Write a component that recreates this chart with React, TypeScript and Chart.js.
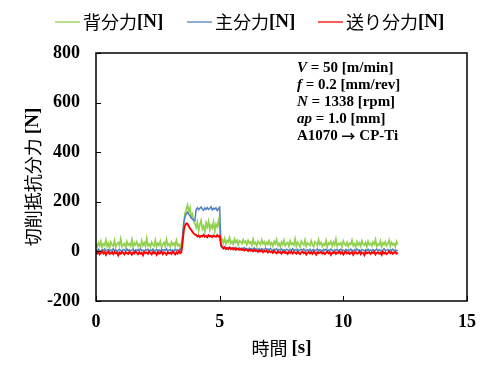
import React, { useEffect, useRef } from "react";
import { Chart, registerables } from "chart.js";

Chart.register(...registerables);

// sampling interval of the recorded signals [s]
const SAMPLE_DT = 0.05;

const SERIES_NAMES = ["背分力", "主分力", "送り分力"];
const SERIES_COLORS = ["#92D050", "#4F81BD", "#FF0000"];
const SERIES_WIDTHS = [1.7, 1.5, 1.9];
const X_TICKS = [0, 5, 10, 15];
const Y_TICKS = [-200, 0, 200, 400, 600, 800];
const X_TITLE = "時間";
const Y_TITLE = "切削抵抗分力";
const UNIT_N = "[N]";
const UNIT_S = "[s]";

// 背分力 (thrust force)
const backForce = [
  28, 19, 35, 22, 41, 17, 30, 24, 46, 20,
  33, 15, 38, 26, 21, 44, 18, 29, 36, 23,
  50, 19, 27, 32, 16, 40, 25, 31, 22, 47,
  18, 34, 26, 39, 21, 29, 17, 43, 24, 35,
  20, 52, 23, 30, 18, 37, 27, 22, 45, 19,
  33, 25, 41, 16, 28, 36, 21, 48, 24, 30,
  19, 38, 26, 34, 20, 44, 23, 29, 17, 32,
  60,
  118, 152, 170, 187, 158, 176, 140, 150, 122, 112,
  96, 118, 84, 108, 125, 90, 102, 79, 115, 98,
  121, 87, 106, 94, 118, 82, 110, 99, 124, 92,
  55,
  48, 34, 52, 30, 44, 38, 56, 33, 41, 29, 50, 36, 45, 27, 43, 39, 31, 47, 35, 42,
  28, 44, 33, 38, 25, 49, 30, 36, 22, 41, 34, 27, 46, 31, 39, 24, 37, 29, 43, 26,
  35, 21, 40, 30, 48, 24, 33, 19, 38, 27, 45, 23, 31, 36, 20, 42, 28, 34, 25, 50,
  22, 37, 29, 18, 41, 32, 26, 46, 21, 35, 30, 24, 43, 27, 19, 39, 33, 23, 47, 28,
  36, 20, 31, 25, 44, 18, 34, 29, 40, 22, 38, 26, 49, 21, 32, 27, 35, 19, 42, 30,
  24, 37, 20, 33, 28, 45, 23, 31, 18, 39, 26, 35, 21, 43, 29, 25, 36, 19, 41, 27,
  33, 22, 38, 28, 47, 20, 30, 25, 42, 18, 34, 27, 39, 23, 31, 45, 21, 36, 26, 32, 19, 40, 28,
];

// 主分力 (principal force)
const mainForce = [
  6, 2, 9, 4, -1, 7, 3, 10, 1, 5,
  8, 0, 6, 3, 11, 2, 7, -2, 5, 9,
  4, 1, 8, 6, 0, 10, 3, 7, 2, 5,
  9, -1, 6, 4, 8, 2, 11, 3, 5, 0,
  7, 4, 9, 1, 6, 3, 10, -1, 5, 8,
  2, 6, 0, 9, 4, 7, 3, 11, 1, 5,
  8, 2, 6, -1, 9, 4, 7, 1, 10, 3,
  55,
  115, 140, 152, 158, 150, 143, 136, 130, 126, 124,
  170, 176, 168, 174, 179, 171, 166, 175, 170, 177,
  169, 173, 180, 167, 174, 171, 176, 165, 172, 178,
  20,
  16, 11, 18, 9, 14, 12, 17, 8, 13, 15, 10, 16, 7, 12, 14, 9, 13, 11, 15, 8,
  12, 6, 13, 9, 11, 5, 14, 8, 10, 7, 12, 4, 11, 9, 6, 13, 8, 10, 5, 12,
  7, 3, 9, 6, 11, 2, 8, 5, 10, 4, 7, 1, 9, 6, 3, 8, 5, 11, 2, 7,
  4, 9, 1, 6, 8, 3, 10, 5, 2, 7, 4, 9, 0, 6, 8, 3, 5, 10, 1, 7,
  5, 2, 8, 4, 9, 1, 6, 3, 10, 5, 0, 7, 4, 8, 2, 6, 9, 3, 5, 1,
  8, 4, 6, 2, 9, 5, 1, 7, 3, 10, 4, 6, 0, 8, 5, 2, 7, 3, 9, 4,
  6, 1, 8, 3, 5, 9, 2, 7, 4, 0, 6, 10, 3, 5, 8, 1, 7, 4, 9, 2, 6, 3, 5,
];

// 送り分力 (feed force)
const feedForce = [
  -4, -9, -2, -12, -6, 0, -8, -3, -14, -5,
  -1, -10, -7, -3, -11, -2, -8, -5, -16, -4,
  -9, -1, -6, -12, -3, -7, -10, -2, -5, -13,
  -4, -8, 0, -6, -11, -3, -9, -5, -15, -2,
  -7, -4, -10, -1, -6, -12, -3, -8, -5, -14,
  -2, -9, -6, -1, -11, -4, -7, -13, -3, -8,
  -5, -10, -2, -6, -12, -4, -9, 0, -7, -3,
  35,
  85, 104, 113, 111, 101, 93, 86, 79, 73, 68,
  66, 60, 64, 58, 63, 61, 67, 59, 62, 57,
  65, 60, 63, 58, 64, 61, 59, 66, 60, 63,
  30,
  18, 12, 16, 10, 14, 9, 15, 11, 13, 8, 12, 7, 11, 9, 6, 10, 5, 8, 4, 9,
  6, 2, 7, 3, 5, 0, 6, 1, 4, -2, 3, 0, 5, -3, 2, -1, 4, -4, 1, -2,
  -1, -6, 2, -4, -8, 0, -5, -2, -9, -3, -1, -7, -4, -10, -2, -6, 0, -8, -3, -5,
  -9, -2, -6, -11, -4, -1, -7, -3, -12, -5, -2, -8, -4, -10, -1, -6, -13, -3, -7, -5,
  -2, -9, -4, -11, -6, -1, -8, -3, -14, -5, -7, -2, -10, -4, -6, 0, -9, -3, -12, -5,
  -1, -8, -4, -10, -6, -2, -13, -5, -3, -9, -7, -1, -11, -4, -6, -15, -2, -8, -5, -3,
  -10, -4, -7, -1, -12, -6, -3, -9, -5, -14, -2, -8, -4, -11, -6, 0, -7, -3, -10, -5, -2, -9, -4,
];

// cutting conditions: [italic symbol, rest]
const CONDITIONS: [string, string][] = [
  ["V", " = 50 [m/min]"],
  ["f", " = 0.2 [mm/rev]"],
  ["N", " = 1338 [rpm]"],
  ["ap", " = 1.0 [mm]"],
  ["", "A1070 → CP-Ti"],
];

const CJK = "'Noto Sans CJK JP', sans-serif";
const SERIF = "'Liberation Serif', 'Times New Roman', serif";

type Seg = { text: string; font: string };

function segWidth(ctx: CanvasRenderingContext2D, segs: Seg[]) {
  let w = 0;
  for (const s of segs) {
    ctx.font = s.font;
    w += ctx.measureText(s.text).width;
  }
  return w;
}

function drawRich(
  ctx: CanvasRenderingContext2D,
  segs: Seg[],
  x: number,
  y: number,
  align: "left" | "center"
) {
  let cx = align === "center" ? x - segWidth(ctx, segs) / 2 : x;
  ctx.textAlign = "left";
  ctx.textBaseline = "middle";
  for (const s of segs) {
    ctx.font = s.font;
    ctx.fillText(s.text, cx, y);
    cx += ctx.measureText(s.text).width;
  }
}

const decorPlugin = {
  id: "decor",
  afterDatasetsDraw(chart: any) {
    const ctx: CanvasRenderingContext2D = chart.ctx;
    const { left, right, top, bottom } = chart.chartArea;
    const xs = chart.scales.x;
    const ys = chart.scales.y;
    ctx.save();
    // plot frame
    ctx.strokeStyle = "#000";
    ctx.lineWidth = 1.5;
    ctx.strokeRect(left, top, right - left, bottom - top);
    // inward tick marks
    ctx.lineWidth = 1;
    for (const t of X_TICKS) {
      const px = Math.round(xs.getPixelForValue(t)) + 0.5;
      ctx.beginPath();
      ctx.moveTo(px, bottom);
      ctx.lineTo(px, bottom - 5);
      ctx.stroke();
    }
    for (const t of Y_TICKS) {
      const py = Math.round(ys.getPixelForValue(t)) + 0.5;
      ctx.beginPath();
      ctx.moveTo(left, py);
      ctx.lineTo(left + 5, py);
      ctx.stroke();
    }
    ctx.restore();
  },
  afterDraw(chart: any) {
    const ctx: CanvasRenderingContext2D = chart.ctx;
    const { left, right, top, bottom } = chart.chartArea;
    ctx.save();
    ctx.fillStyle = "#000";

    // legend
    const legendX = [55, 187, 318];
    const legendY = 22;
    SERIES_NAMES.forEach((name, i) => {
      ctx.strokeStyle = SERIES_COLORS[i];
      ctx.lineWidth = 1.3;
      ctx.beginPath();
      ctx.moveTo(legendX[i], legendY);
      ctx.lineTo(legendX[i] + 25, legendY);
      ctx.stroke();
      ctx.fillStyle = "#000";
      drawRich(
        ctx,
        [
          { text: name, font: `18px ${CJK}` },
          { text: UNIT_N, font: `bold 19px ${SERIF}` },
        ],
        legendX[i] + 28,
        legendY,
        "left"
      );
    });

    // x axis title
    drawRich(
      ctx,
      [
        { text: X_TITLE + " ", font: `18px ${CJK}` },
        { text: UNIT_S, font: `bold 19px ${SERIF}` },
      ],
      (left + right) / 2,
      348,
      "center"
    );

    // y axis title
    ctx.save();
    ctx.translate(33, (top + bottom) / 2);
    ctx.rotate(-Math.PI / 2);
    drawRich(
      ctx,
      [
        { text: Y_TITLE + " ", font: `18px ${CJK}` },
        { text: UNIT_N, font: `bold 19px ${SERIF}` },
      ],
      0,
      0,
      "center"
    );
    ctx.restore();

    // condition annotation
    CONDITIONS.forEach(([sym, rest], i) => {
      const segs: Seg[] = [];
      if (sym) segs.push({ text: sym, font: `italic bold 15px ${SERIF}` });
      const parts = rest.split("→");
      parts.forEach((p, k) => {
        if (k > 0) segs.push({ text: "→", font: `bold 14px ${CJK}` });
        segs.push({ text: p, font: `bold 15px ${SERIF}` });
      });
      drawRich(ctx, segs, 297, 68 + i * 17, "left");
    });
    ctx.restore();
  },
};

const SERIES = [backForce, mainForce, feedForce];
const DRAW_ORDER = [3, 2, 1];

export default function App() {
  const ref = useRef<HTMLCanvasElement | null>(null);

  useEffect(() => {
    if (!ref.current) return;
    const chart = new Chart(ref.current, {
      type: "line",
      data: {
        datasets: SERIES.map((arr, i) => ({
          label: SERIES_NAMES[i] + UNIT_N,
          data: arr.map((v, k) => ({ x: k * SAMPLE_DT, y: v })),
          borderColor: SERIES_COLORS[i],
          backgroundColor: SERIES_COLORS[i],
          borderWidth: SERIES_WIDTHS[i],
          pointRadius: 0,
          tension: 0,
          order: DRAW_ORDER[i],
        })),
      },
      options: {
        animation: false,
        responsive: true,
        maintainAspectRatio: false,
        layout: { padding: { left: 0, top: 53, right: 24, bottom: 0 } },
        plugins: {
          legend: { display: false },
          tooltip: { enabled: false },
        },
        scales: {
          x: {
            type: "linear",
            min: 0,
            max: 15,
            afterBuildTicks: (s: any) => {
              s.ticks = X_TICKS.map((v) => ({ value: v }));
            },
            afterFit: (s: any) => {
              s.height = 77;
            },
            grid: { display: false, drawTicks: false },
            border: { display: false },
            ticks: {
              padding: 11,
              color: "#000",
              font: { family: SERIF, size: 18, weight: "bold" },
              maxRotation: 0,
            },
          },
          y: {
            type: "linear",
            min: -200,
            max: 800,
            afterBuildTicks: (s: any) => {
              s.ticks = Y_TICKS.map((v) => ({ value: v }));
            },
            afterFit: (s: any) => {
              s.width = 96;
            },
            grid: { display: false, drawTicks: false },
            border: { display: false },
            ticks: {
              padding: 16,
              color: "#000",
              font: { family: SERIF, size: 18, weight: "bold" },
            },
          },
        },
      },
      plugins: [decorPlugin],
    });
    return () => chart.destroy();
  }, []);

  return (
    <div
      style={{
        position: "fixed",
        left: 0,
        top: 0,
        width: 491,
        height: 378,
        background: "#fff",
      }}
    >
      <canvas ref={ref} />
    </div>
  );
}
